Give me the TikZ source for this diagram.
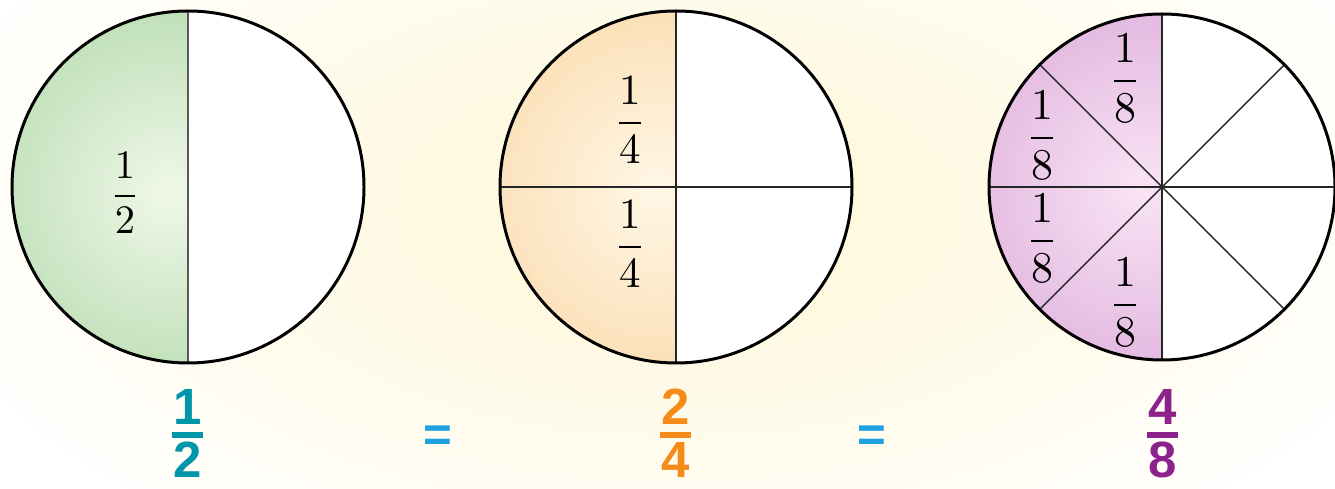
\documentclass[tikz,border=0pt]{standalone}
\usepackage{amsmath}
\usepackage{fontspec}
\usepackage{tikz}
\newfontfamily\numfont{Liberation Sans}
\definecolor{glowyellow}{RGB}{255,247,214}
\definecolor{greenbase}{RGB}{160,208,155}
\definecolor{greenlight}{RGB}{240,248,232}
\definecolor{orangebase}{RGB}{248,208,152}
\definecolor{orangelight}{RGB}{255,247,230}
\definecolor{purplebase}{RGB}{212,155,210}
\definecolor{purplelight}{RGB}{249,228,245}
\definecolor{tealc}{RGB}{0,150,170}
\definecolor{orangec}{RGB}{245,140,25}
\definecolor{purplec}{RGB}{140,35,140}
\definecolor{eqblue}{RGB}{30,160,225}

\begin{document}
\begin{tikzpicture}[x=0.02cm,y=0.02cm,
  rim/.style={line width=1.7pt},
  cut/.style={line width=0.8pt,black!85},
  part/.style={inner sep=0pt},
  bignum/.style={font=\fontsize{29}{31}\selectfont\numfont\bfseries,inner sep=0pt,anchor=base},
  fracbar/.style={line width=0.12cm},
  eq/.style={font=\fontsize{28}{30}\selectfont\numfont\bfseries,text=eqblue,inner sep=0pt,anchor=base}]
\useasboundingbox (0,0) rectangle (1335,489);
\begin{scope}
\clip (0,0) rectangle (1335,489);
\shade[inner color=glowyellow,outer color=white] (676,280) ellipse (820 and 420);
\end{scope}

\coordinate (c1) at (188,302);
\coordinate (c2) at (676,302);
\coordinate (c3) at (1162,302);

\path[fill=greenbase,path picture={\shade[inner color=greenlight,outer color=greenbase] (168,296) circle (300);}] (188,478) arc (90:270:176) -- cycle;
\fill[white] (188,478) arc (90:-90:176) -- cycle;
\draw[cut,black!65] (188,478) -- (188,126);
\draw[rim] (c1) circle (176);
\node[part,scale=2.3] (half) at (125,296) {$\dfrac{1}{2}$};

\path[fill=orangebase,path picture={\shade[inner color=orangelight,outer color=orangebase] (656,300) circle (300);}] (676,478) arc (90:270:176) -- cycle;
\fill[white] (676,478) arc (90:-90:176) -- cycle;
\draw[cut] (676,478) -- (676,126);
\draw[cut] (500,302) -- (852,302);
\draw[rim] (c2) circle (176);
\node[part,scale=2.45] (qtop) at (630,369) {$\dfrac{1}{4}$};
\node[part,scale=2.45] (qbot) at (630,245) {$\dfrac{1}{4}$};

\path[fill=purplebase,path picture={\shade[inner color=purplelight,outer color=purplebase] (1140,300) circle (300);}] (1162,475) arc (90:270:173) -- cycle;
\fill[white] (1162,475) arc (90:-90:173) -- cycle;
\foreach \a in {0,45,...,315}
  \draw[cut] (c3) -- ++(\a:173);
\draw[rim] (c3) circle (173);
\node[part,scale=2.5] (etop) at (1125,411) {$\dfrac{1}{8}$};
\node[part,scale=2.5] (eul) at (1042,354) {$\dfrac{1}{8}$};
\node[part,scale=2.5] (ell) at (1042,251) {$\dfrac{1}{8}$};
\node[part,scale=2.5] (ebot) at (1125,187) {$\dfrac{1}{8}$};

\node[bignum,text=tealc] (n1) at (188,64) {1};
\draw[fracbar,tealc] (172,54) -- (203,54);
\node[bignum,text=tealc] (d1) at (188,11) {2};

\node[eq] (eq1) at (438,37) {=};

\node[bignum,text=orangec] (n2) at (676,64) {2};
\draw[fracbar,orangec] (660,54) -- (691,54);
\node[bignum,text=orangec] (d2) at (676,11) {4};

\node[eq] (eq2) at (872,37) {=};

\node[bignum,text=purplec] (n3) at (1163,64) {4};
\draw[fracbar,purplec] (1147,54) -- (1178,54);
\node[bignum,text=purplec] (d3) at (1163,11) {8};
\end{tikzpicture}
\end{document}
